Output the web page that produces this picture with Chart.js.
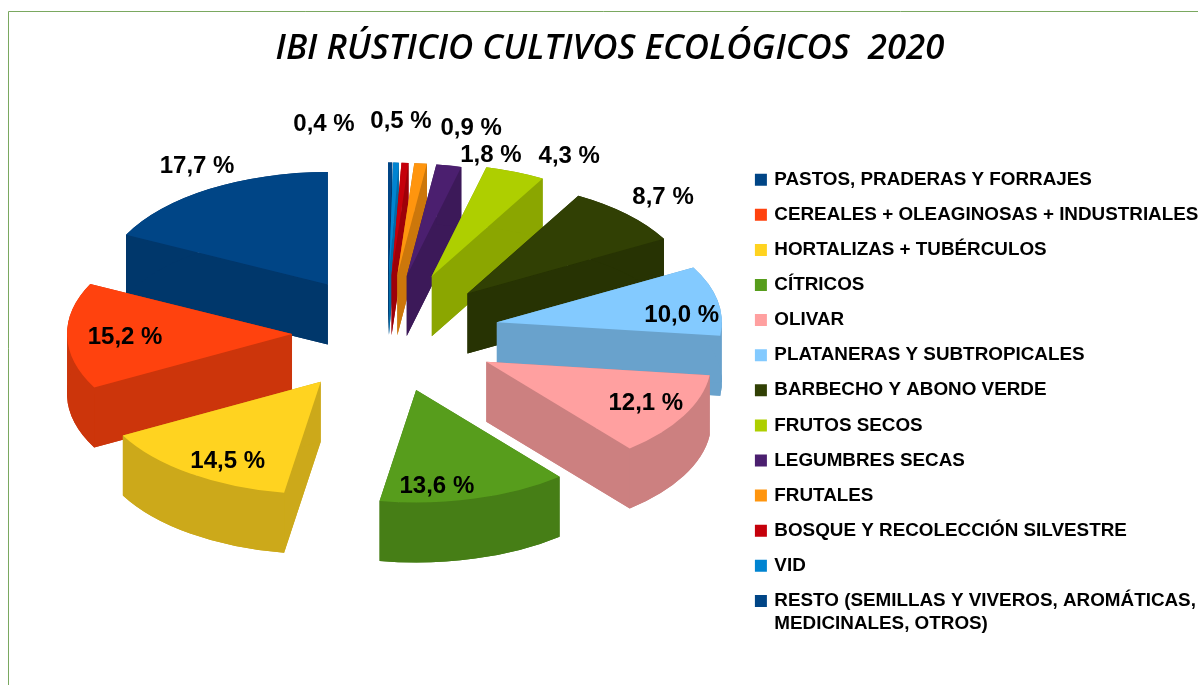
<!DOCTYPE html>
<html lang="es">
<head>
<meta charset="utf-8">
<title>IBI Rústico cultivos ecológicos 2020</title>
<style>html,body{margin:0;padding:0;background:#fff}canvas{display:block}</style>
<script src="https://cdn.jsdelivr.net/npm/chart.js@4/dist/chart.umd.js"></script>
</head>
<body>
<canvas id="c" width="1198" height="685"></canvas>
<script>
const titleText = 'IBI RÚSTICIO CULTIVOS ECOLÓGICOS  2020';
const categories = [
  'PASTOS, PRADERAS Y FORRAJES',
  'CEREALES + OLEAGINOSAS + INDUSTRIALES',
  'HORTALIZAS + TUBÉRCULOS',
  'CÍTRICOS',
  'OLIVAR',
  'PLATANERAS Y SUBTROPICALES',
  'BARBECHO Y ABONO VERDE',
  'FRUTOS SECOS',
  'LEGUMBRES SECAS',
  'FRUTALES',
  'BOSQUE Y RECOLECCIÓN SILVESTRE',
  'VID',
  ['RESTO (SEMILLAS Y VIVEROS, AROMÁTICAS,', 'MEDICINALES, OTROS)']
];
const values = [17.7, 15.2, 14.5, 13.6, 12.1, 10.0, 8.7, 4.3, 1.8, 0.9, 0.5, 0.4, 0.3];
const colors = ['#004586','#ff420e','#ffd320','#579d1c','#ffa0a0','#83caff','#314004','#aecf00','#4b1f6f','#ff950e','#c5000b','#0084d1','#004586'];
const showLabel = [true,true,true,true,true,true,true,true,true,true,true,true,false];
const explodeX = [114,96,116,108,112,111,112,118,100,90,60,30,0];
const explodeY = [114,96,120,118,120,110,112,122,116,116,116,116,116];
const labelNudgeX = [-12,58,37.5,-38,-38,-36,36,54,42,50.5,-4,-72,0];
const labelNudgeY = [-23,1,-12,-11.8,-12,14.5,-17,-16,-10,-35,-41,-38,0];

const TILT = 0.5, DEPTH = 60, RADIUS = 225;
const CENTER_X = 388, CENTER_Y = 333;
const rev = a => a.slice().reverse();

function darken(hex, f) {
  const n = parseInt(hex.slice(1), 16);
  return `rgb(${Math.round((n >> 16 & 255) * f)},${Math.round((n >> 8 & 255) * f)},${Math.round((n & 255) * f)})`;
}
function origin(el, s) {
  const mid = (el.startAngle + el.endAngle) / 2;
  return [el.x + explodeX[s] * Math.cos(mid), el.y + explodeY[s] * Math.sin(mid) * TILT];
}
function fillSector(ctx, el, s, dy, fill) {
  const [ox, oy] = origin(el, s);
  ctx.beginPath();
  ctx.moveTo(ox, oy + dy);
  ctx.ellipse(ox, oy + dy, el.outerRadius, el.outerRadius * TILT, 0, el.startAngle, el.endAngle);
  ctx.closePath();
  ctx.fillStyle = fill;
  ctx.fill();
}
function fillWalls(ctx, el, s, fill) {
  const [ox, oy] = origin(el, s);
  const R = el.outerRadius, Ry = R * TILT;
  ctx.fillStyle = fill;
  fillSector(ctx, el, s, DEPTH, fill);
  const corners = [el.startAngle, el.endAngle];
  [0, Math.PI].forEach(a => { if (a > el.startAngle && a < el.endAngle) corners.push(a); });
  corners.forEach(a => {
    const cx = ox + R * Math.cos(a), cy = oy + Ry * Math.sin(a);
    ctx.beginPath();
    ctx.moveTo(ox, oy);
    ctx.lineTo(cx, cy);
    ctx.lineTo(cx, cy + DEPTH);
    ctx.lineTo(ox, oy + DEPTH);
    ctx.closePath();
    ctx.fill();
  });
  ctx.beginPath();
  ctx.ellipse(ox, oy, R, Ry, 0, el.startAngle, el.endAngle);
  ctx.ellipse(ox, oy + DEPTH, R, Ry, 0, el.endAngle, el.startAngle, true);
  ctx.closePath();
  ctx.fill();
}
const exploded3D = {
  id: 'exploded3D',
  beforeDraw(chart) {
    const ctx = chart.ctx;
    ctx.save();
    ctx.strokeStyle = '#7aa860';
    ctx.lineWidth = 1;
    ctx.beginPath();
    ctx.moveTo(8.5, 685);
    ctx.lineTo(8.5, 11.5);
    ctx.lineTo(1198, 11.5);
    ctx.stroke();
    ctx.restore();
  },
  afterLayout(chart) {
    const a = chart.chartArea;
    a.left = CENTER_X - RADIUS; a.right = CENTER_X + RADIUS;
    a.top = CENTER_Y - RADIUS; a.bottom = CENTER_Y + RADIUS;
    a.width = a.height = RADIUS * 2;
    const lg = chart.legend;
    const w = lg.right - lg.left;
    lg.left = 740.65; lg.right = lg.left + w;
    lg.top = 154;
  },
  beforeDatasetDraw(chart, args) {
    const ctx = chart.ctx, n = values.length;
    const els = args.meta.data.map((el, i) => ({ el, src: n - 1 - i }));
    els.sort((p, q) => Math.sin((p.el.startAngle + p.el.endAngle) / 2) - Math.sin((q.el.startAngle + q.el.endAngle) / 2));
    els.forEach(({ el, src }) => {
      fillWalls(ctx, el, src, darken(colors[src], 0.8));
      fillSector(ctx, el, src, 0, colors[src]);
    });
    return false;
  },
  afterDatasetsDraw(chart) {
    const ctx = chart.ctx, n = values.length;
    ctx.save();
    ctx.font = 'bold 24px "Liberation Sans"';
    ctx.fillStyle = '#000';
    ctx.textAlign = 'center';
    ctx.textBaseline = 'middle';
    chart.getDatasetMeta(0).data.forEach((el, i) => {
      const s = n - 1 - i;
      if (!showLabel[s]) return;
      const mid = (el.startAngle + el.endAngle) / 2, r = el.outerRadius;
      const x = el.x + (explodeX[s] + r) * Math.cos(mid) + labelNudgeX[s];
      const y = el.y + (explodeY[s] + r) * Math.sin(mid) * TILT + labelNudgeY[s];
      ctx.fillText(values[s].toFixed(1).replace('.', ',') + ' %', x, y);
    });
    ctx.restore();
  }
};
new Chart(document.getElementById('c'), {
  type: 'pie',
  data: {
    labels: rev(categories),
    datasets: [{ data: rev(values), backgroundColor: rev(colors), borderColor: rev(colors), borderWidth: 4, radius: RADIUS, clip: false }]
  },
  options: {
    responsive: false,
    animation: false,
    rotation: 0,
    layout: { padding: { left: 22 } },
    plugins: {
      tooltip: { enabled: false },
      title: {
        display: true,
        text: titleText,
        color: '#000',
        font: { family: '"Open Sans"', size: 34.77, style: 'italic', weight: '600' },
        padding: { top: 28, bottom: 10 }
      },
      legend: {
        position: 'right',
        align: 'start',
        reverse: true,
        labels: {
          color: '#000',
          boxWidth: 8,
          boxHeight: 8,
          padding: 16.25,
          font: { family: '"Liberation Sans"', size: 18.85, weight: 'bold', lineHeight: 1.22 }
        }
      }
    }
  },
  plugins: [exploded3D]
});
</script>
</body>
</html>
